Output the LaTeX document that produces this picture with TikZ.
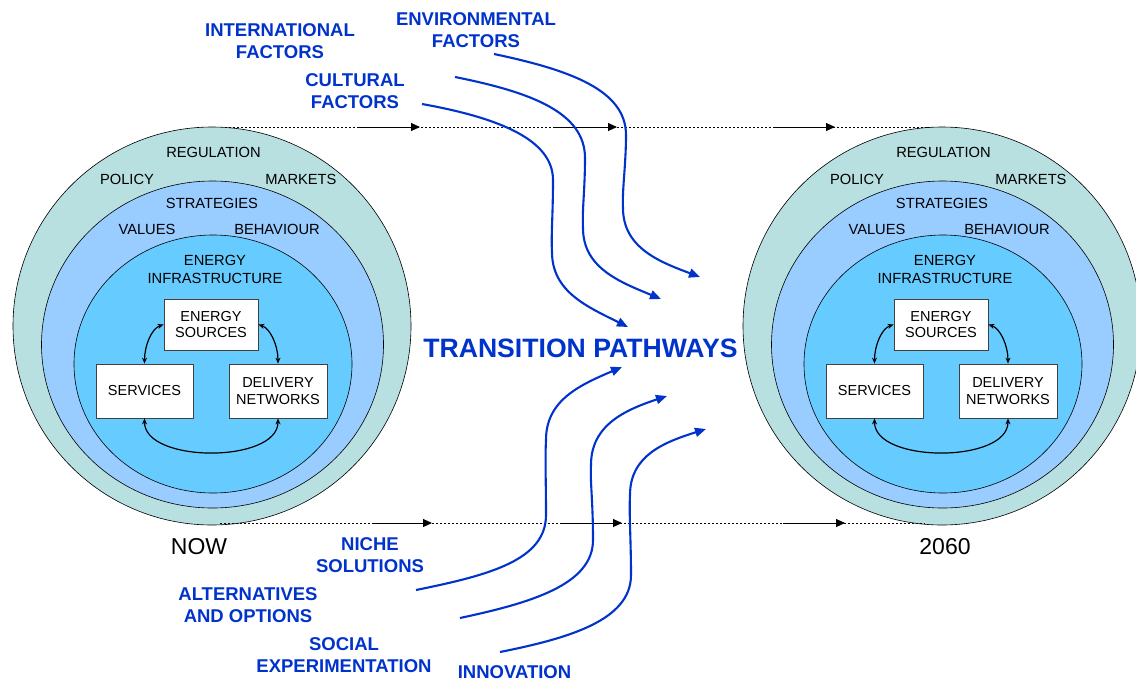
\documentclass[tikz,border=0pt]{standalone}
\usepackage{fontspec}
\setmainfont{Liberation Sans}
\usetikzlibrary{arrows.meta}
\definecolor{outerc}{HTML}{B9E0E1}
\definecolor{midc}{HTML}{99CCFF}
\definecolor{innc}{HTML}{66CCFF}
\definecolor{pblue}{HTML}{0033CC}
\begin{document}
\begin{tikzpicture}[x=1pt,y=-1pt,
  ringlbl/.style={font=\fontsize{14.7}{17.5}\selectfont, align=center, inner sep=0pt},
  boxnode/.style={draw=black!75, fill=white, line width=0.8pt, font=\fontsize{14.5}{16.5}\selectfont, align=center, inner sep=0pt},
  bluelbl/.style={text=pblue, font=\bfseries\fontsize{18.5}{22}\selectfont, align=center, inner sep=0pt},
  flow/.style={draw=pblue, line width=2.1pt, -{Triangle[length=11pt,width=9pt]}},
  timeline/.style={black, line width=0.8pt, dash pattern=on 2pt off 2pt},
  timearrow/.style={black, line width=1pt, -{Triangle[length=9pt,width=8pt]}},
  link/.style={black, line width=1.2pt, {Stealth[length=6pt,width=5pt]}-{Stealth[length=6pt,width=5pt]}},
  ring/.style={draw=black, line width=0.6pt},
]
\useasboundingbox (0,0) rectangle (1136,681);
\fill[white] (0,0) rectangle (1136,681);

% time lines
\coordinate (topS) at (225,127);
\coordinate (topE) at (930,127);
\coordinate (botS) at (220,523);
\coordinate (botE) at (925,523);

\foreach \sx/\p in {0/L,730/R}{
\begin{scope}[xshift=\sx pt]
 \draw[ring, fill=outerc] (212,326) circle[radius=199pt];
 \draw[ring, fill=midc] (212.5,344.5) ellipse[x radius=171pt, y radius=163.5pt];
 \draw[ring, fill=innc] (213,364) ellipse[x radius=139pt, y radius=129pt];
 \node[ringlbl] (reg\p) at (213.5,152) {REGULATION};
 \node[ringlbl] (pol\p) at (127,179) {POLICY};
 \node[ringlbl] (mkt\p) at (301,179) {MARKETS};
 \node[ringlbl] (str\p) at (212,203.5) {STRATEGIES};
 \node[ringlbl] (val\p) at (147,229) {VALUES};
 \node[ringlbl] (beh\p) at (277,229) {BEHAVIOUR};
 \node[ringlbl] (inf\p) at (215,269.5) {ENERGY\\INFRASTRUCTURE};
 \node[boxnode, minimum width=94pt, minimum height=51pt] (es\p) at (211,324.5) {ENERGY\\SOURCES};
 \node[boxnode, minimum width=97pt, minimum height=54pt] (sv\p) at (144.5,391) {SERVICES};
 \node[boxnode, minimum width=98pt, minimum height=54pt] (dn\p) at (278,391) {DELIVERY\\NETWORKS};
 \draw[link] (es\p.west) .. controls +(-12,4) and +(0,-18) .. (sv\p.north);
 \draw[link] (es\p.east) .. controls +(12,4) and +(0,-18) .. (dn\p.north);
 \draw[link] (sv\p.south) .. controls +(0,45) and +(0,45) .. (dn\p.south);
\end{scope}
}

\draw[timeline] (topS) -- (topE);
\draw[timeline] (botS) -- (botE);
\coordinate (ta1) at (358,127); \coordinate (tb1) at (420,127);
\coordinate (ta2) at (555,127); \coordinate (tb2) at (617,127);
\coordinate (ta3) at (773,127); \coordinate (tb3) at (835,127);
\coordinate (ba1) at (372,523); \coordinate (bb1) at (432,523);
\coordinate (ba2) at (562,523); \coordinate (bb2) at (622,523);
\coordinate (ba3) at (783,523); \coordinate (bb3) at (845,523);
\draw[timearrow] (ta1) -- (tb1);
\draw[timearrow] (ta2) -- (tb2);
\draw[timearrow] (ta3) -- (tb3);
\draw[timearrow] (ba1) -- (bb1);
\draw[timearrow] (ba2) -- (bb2);
\draw[timearrow] (ba3) -- (bb3);

\node[font=\fontsize{23}{26}\selectfont, inner sep=0pt] (now) at (199,547) {NOW};
\node[font=\fontsize{23}{26}\selectfont, inner sep=0pt] (y2060) at (945,547) {2060};

% labels
\node[bluelbl] (intl) at (280,41.5) {INTERNATIONAL\\FACTORS};
\node[bluelbl] (env) at (476,30.5) {ENVIRONMENTAL\\FACTORS};
\node[bluelbl] (cult) at (355,91) {CULTURAL\\FACTORS};
\node[bluelbl] (niche) at (370,555) {NICHE\\SOLUTIONS};
\node[bluelbl] (alt) at (248,605) {ALTERNATIVES\\AND OPTIONS};
\node[bluelbl] (soc) at (344,655) {SOCIAL\\EXPERIMENTATION};
\node[bluelbl] (innov) at (514.5,672) {INNOVATION};
\node[text=pblue, font=\bfseries\fontsize{26.6}{30}\selectfont, inner sep=0pt] (tp) at (580.5,348) {TRANSITION PATHWAYS};

% flow curves (top)
\coordinate (cA0) at (422,104); \coordinate (cA1) at (628,327);
\coordinate (cB0) at (455,77);  \coordinate (cB1) at (661,299);
\coordinate (cC0) at (494,54);  \coordinate (cC1) at (700,277);
\draw[flow] (cA0) .. controls (500,118) and (553,140) .. (553,180)
  .. controls (553,215) and (551,235) .. (552,252)
  .. controls (552,292) and (588,307) .. (cA1);
\draw[flow] (cB0) .. controls (530,92) and (585,112) .. (585,158)
  .. controls (585,190) and (582,210) .. (583,228)
  .. controls (583,268) and (620,282) .. (cB1);
\draw[flow] (cC0) .. controls (570,70) and (626,90) .. (626,135)
  .. controls (626,165) and (622,190) .. (623,208)
  .. controls (623,248) and (660,262) .. (cC1);
% flow curves (bottom)
\coordinate (cD0) at (416,590); \coordinate (cD1) at (622,367);
\coordinate (cE0) at (460,618); \coordinate (cE1) at (667,396);
\coordinate (cF0) at (500,652); \coordinate (cF1) at (706,429);
\draw[flow] (cD0) .. controls (490,575) and (546,560) .. (546,515)
  .. controls (546,480) and (545,460) .. (546,440)
  .. controls (546,400) and (580,385) .. (cD1);
\draw[flow] (cE0) .. controls (530,603) and (593,585) .. (593,540)
  .. controls (593,500) and (590,482) .. (591,465)
  .. controls (591,425) and (625,410) .. (cE1);
\draw[flow] (cF0) .. controls (570,638) and (631,620) .. (631,575)
  .. controls (631,540) and (629,515) .. (630,495)
  .. controls (630,455) and (665,442) .. (cF1);
\end{tikzpicture}
\end{document}
